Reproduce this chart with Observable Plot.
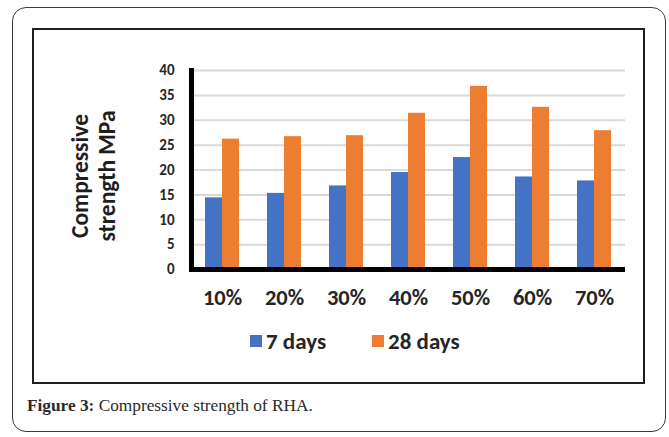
<!DOCTYPE html>
<html>
<head>
<meta charset="utf-8">
<script src="https://cdn.jsdelivr.net/npm/d3@7"></script>
<script src="https://cdn.jsdelivr.net/npm/@observablehq/plot@0.6"></script>
<style>
  html, body { margin: 0; padding: 0; background: #fff; }
  body { width: 669px; height: 437px; position: relative; overflow: hidden; }
  #card {
    position: absolute; left: 12px; top: 7px; width: 654px; height: 425px;
    border: 1.3px solid #3a3a3a; border-radius: 14px; box-sizing: border-box;
  }
  #panel {
    position: absolute; left: 32px; top: 28px; width: 613px; height: 356px;
    border: 2px solid #1f1f1f; box-sizing: border-box;
  }
  #chart { position: absolute; left: 0; top: 0; }
  #legend {
    position: absolute; left: 216px; top: 297px; display: flex; align-items: center;
    font-family: Carlito, Lato, sans-serif; font-weight: bold; font-size: 23px; color: #262626;
  }
  #legend .item { display: flex; align-items: center; margin-right: 46px; }
  #legend .sw { width: 12px; height: 12px; margin-right: 4px; display: inline-block; }
  #caption {
    position: absolute; left: 27px; top: 396px;
    font-family: "Liberation Serif", "DejaVu Serif", serif; font-size: 17.3px; color: #2a2a2a;
    white-space: nowrap;
  }
</style>
</head>
<body>
<div id="card"></div>
<div id="panel">
  <div id="chart"></div>
  <div id="legend"></div>
</div>
<div id="caption"><b>Figure 3:</b> Compressive strength of RHA.</div>
<script>
// RHA replacement levels on the x axis
const categories = ["10%", "20%", "30%", "40%", "50%", "60%", "70%"];
// curing ages
const series = ["7 days", "28 days"];
// compressive strength, MPa
const strength7 = [14.4, 15.3, 16.8, 19.5, 22.5, 18.6, 17.8];
const strength28 = [26.2, 26.7, 26.9, 31.4, 36.8, 32.6, 27.9];
const yTicks = [0, 5, 10, 15, 20, 25, 30, 35, 40];
const colors = ["#4472C4", "#ED7D31"];
const yTitle = "Compressive\nstrength MPa";

const rows = categories.flatMap((c, i) => [
  {category: c, series: series[0], value: strength7[i]},
  {category: c, series: series[1], value: strength28[i]}
]);

const font = "Carlito, Lato, sans-serif";

const chart = Plot.plot({
  width: 609,
  height: 290,
  marginLeft: 156,
  marginRight: 17,
  marginTop: 40,
  marginBottom: 51,
  style: {fontFamily: font, color: "#262626", background: "transparent", overflow: "visible"},
  fx: {domain: categories, padding: 0, label: null},
  x: {domain: series, paddingInner: 0, paddingOuter: 0.78, axis: null},
  y: {domain: [0, 40], label: null},
  color: {domain: series, range: colors},
  marks: [
    Plot.ruleY(yTicks.filter(d => d > 0), {stroke: "#d9d9d9", strokeWidth: 2}),
    Plot.barY(rows, {fx: "category", x: "series", y: "value", fill: "series"}),
    Plot.ruleY([0], {stroke: "#000", strokeWidth: 5}),
    Plot.frame({anchor: "left", facetAnchor: "left", stroke: "#000", strokeWidth: 5}),
    Plot.axisY({ticks: yTicks, tickSize: 0, tickPadding: 17, label: null,
      fontSize: 15, fontWeight: "bold"}),
    Plot.axisFx({anchor: "bottom", tickSize: 0, tickPadding: 20, label: null,
      fontSize: 22.5, fontWeight: "bold"}),
    Plot.text([yTitle], {frameAnchor: "left", facetAnchor: "left", rotate: -90,
      textAnchor: "middle", lineAnchor: "middle",
      dx: -99, dy: 6, fontSize: 23.5, fontWeight: "bold", lineHeight: 1.15, fill: "#1e1e1e"})
  ]
});
document.getElementById("chart").appendChild(chart);

// legend swatches built from the same series/colour arrays
const legend = document.getElementById("legend");
series.forEach((s, i) => {
  const item = document.createElement("div");
  item.className = "item";
  const sw = document.createElement("span");
  sw.className = "sw";
  sw.style.background = colors[i];
  item.appendChild(sw);
  item.appendChild(document.createTextNode(s));
  legend.appendChild(item);
});
</script>
</body>
</html>
